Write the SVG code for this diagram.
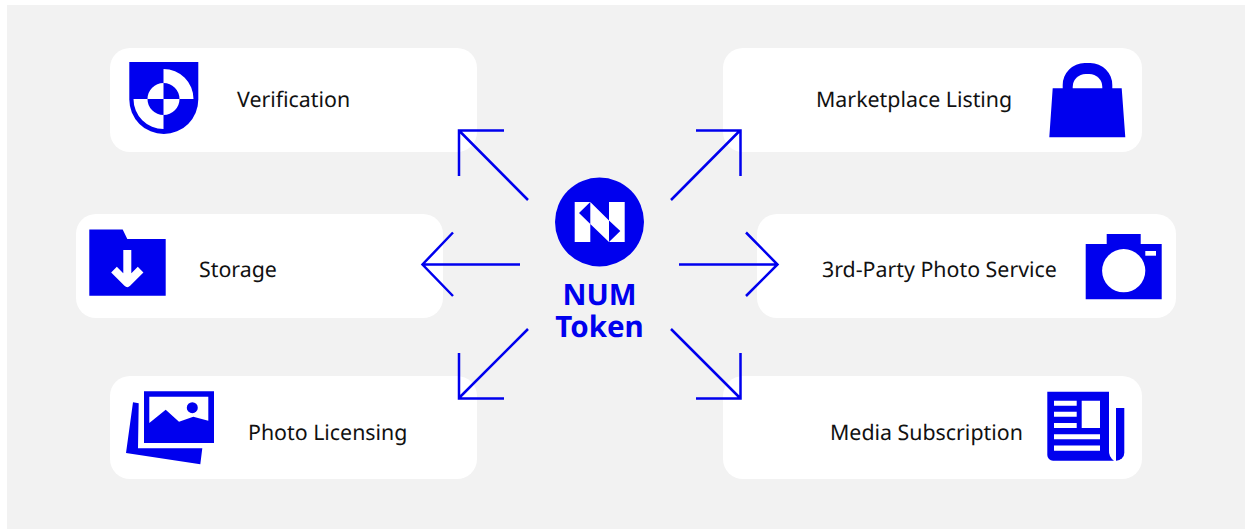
<svg xmlns="http://www.w3.org/2000/svg" width="1249" height="529" viewBox="0 0 1249 529">
<style>
text{text-rendering:geometricPrecision}
.card{fill:#fff}
.b{fill:#0000ee}
.w{fill:#fff}
.lbl{font-family:"Noto Sans",sans-serif;font-size:21.35px;fill:#111}
.num{font-family:"Noto Sans",sans-serif;font-size:29.5px;font-weight:700;fill:#0000ee;text-anchor:middle}
.arrow{fill:none;stroke:#0000ee;stroke-width:2.5}
</style>
<rect width="1249" height="529" fill="#fff"/>
<rect x="7" y="5" width="1238" height="524" fill="#f2f2f2"/>
<g id="verification">
<rect class="card" x="110" y="48" width="367" height="104" rx="20"/>
<path class="b" d="M129.3 62H198.3V99.5A34.500 34.500 0 0 1 129.300 99.500Z"/>
<path class="w" d="M163.500 69A30 30 0 0 1 193.500 99H179.500A16 16 0 0 0 163.500 83ZM133.500 99H147.500A16 16 0 0 0 163.500 115V129A30 30 0 0 1 133.500 99Z"/>
<path class="w" d="M163.500 99V83A16 16 0 0 0 147.500 99ZM163.500 99H179.500A16 16 0 0 1 163.500 115Z"/>
<text class="lbl" x="237" y="107">Verification</text>
</g>
<g id="storage">
<rect class="card" x="76" y="214" width="367" height="104" rx="20"/>
<path class="b" d="M89.300 229.500H122.700L127.300 239H165.700V295.700H89.300Z"/>
<path d="M127.300 250V283M114 269.700L127.300 283L140.600 269.700" fill="none" stroke="#fff" stroke-width="8" stroke-linejoin="round"/>
<text class="lbl" x="199" y="277">Storage</text>
</g>
<g id="photo-licensing">
<rect class="card" x="110" y="376" width="367" height="103" rx="20"/>
<path class="b" d="M144 391.300H214V443H144ZM133 402.300L138.700 403.300L138 448.300H202.300L200.300 464.300L126 453Z"/>
<path class="w" d="M149.300 396.700H208.300V420.700L193.300 416.700L179 421.700L165.700 409.700L149.300 423Z"/>
<circle class="b" cx="192.300" cy="407.700" r="5.500"/>
<text class="lbl" x="248" y="440">Photo Licensing</text>
</g>
<g id="marketplace-listing">
<rect class="card" x="723" y="48" width="419" height="104" rx="20"/>
<path class="b" d="M1052.700 88.300H1062.700V85A22 22 0 0 1 1084.700 63H1090.300A22 22 0 0 1 1112.300 85V88.300H1121.700L1125.300 137.300H1049.300Z"/>
<path class="w" d="M1072.700 88.300V87A13 13 0 0 1 1085.700 74H1089.300A13 13 0 0 1 1102.300 87V88.300Z"/>
<text class="lbl" x="816" y="107">Marketplace Listing</text>
</g>
<g id="third-party-photo-service">
<rect class="card" x="757" y="214" width="419" height="104" rx="20"/>
<path class="b" d="M1085.700 244H1106.700V234H1140.700V244H1161.700V299.300H1085.700Z"/>
<circle class="w" cx="1123.700" cy="270.700" r="21.600"/>
<rect class="w" x="1145.300" y="251" width="10.700" height="4.700"/>
<text class="lbl" x="822" y="277">3rd-Party Photo Service</text>
</g>
<g id="media-subscription">
<rect class="card" x="723" y="376" width="419" height="103" rx="20"/>
<path class="b" d="M1047.300 391.700H1109V450A12 12 0 0 0 1114 460.700H1053A5.700 5.700 0 0 1 1047.300 455Z"/>
<path class="b" d="M1116 408H1124.300V452.700A8 8 0 0 1 1116.300 460.700H1116Z"/>
<path class="w" d="M1054 400.700H1076.700V405.700H1054ZM1054 411.700H1076.700V416.700H1054ZM1054 423H1076.700V428H1054ZM1054 434.300H1100V439.300H1054ZM1054 445.500H1100V450.700H1054ZM1081.700 400.700H1100V428H1081.700Z"/>
<text class="lbl" x="830" y="440">Media Subscription</text>
</g>
<g id="num-token">
<circle class="b" cx="599.500" cy="222" r="44.500"/>
<path class="w" d="M574.700 202H590.300L579 213L590.300 224V242H574.700ZM590.300 202L609 220.500V242L590.300 224ZM609 202H624.700V242H609L620.300 231L609 220.500Z"/>
<text class="num" x="599.500" y="305">NUM</text>
<text class="num" x="599.500" y="337">Token</text>
</g>
<g id="connectors" class="arrow">
<path d="M528 200L459 130.500M504 130.500H459V176"/>
<path d="M520 264.500H423M453 232.500L422.500 264.500L453 296"/>
<path d="M528 329L459 398M504 398.500H459V353"/>
<path d="M671 200L740 130.500M696 130.500H740.500V176"/>
<path d="M679 264.500H776M746 232.500L777.500 264.500L746 296"/>
<path d="M671 329L740 398M696 398.500H740.500V353"/>
</g>
</svg>
